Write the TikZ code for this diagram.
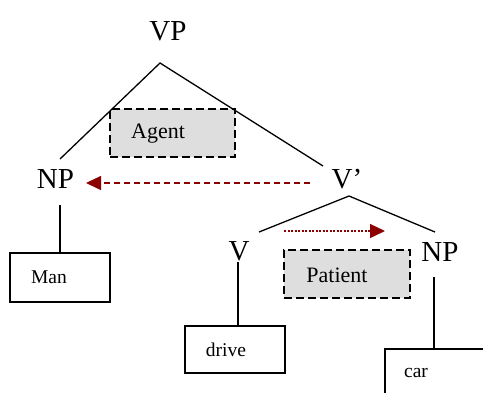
\documentclass[tikz,border=0pt]{standalone}
\usepackage{fontspec}
\setmainfont{Liberation Serif}
\usetikzlibrary{arrows.meta}
\definecolor{argred}{HTML}{8B0000}
\definecolor{rolegrey}{HTML}{DEDEDE}
\begin{document}
\begin{tikzpicture}[x=1pt,y=-1pt,
  cat/.style={inner sep=0pt,font=\fontsize{29}{29}\selectfont},
  wordbox/.style={draw,line width=1.5pt,inner sep=0pt},
  wordtext/.style={inner sep=0pt,font=\fontsize{19.5}{20}\selectfont},
  rolebox/.style={draw,line width=1.5pt,dash pattern=on 8pt off 4pt,fill=rolegrey,inner sep=0pt},
  roletext/.style={inner sep=0pt,font=\fontsize{22}{22}\selectfont},
  branch/.style={line width=1.3pt},
  movearrow/.style={argred,line width=1.3pt,-{Triangle[length=15pt,width=14pt]}}]
\useasboundingbox (0,0) rectangle (483,392);
\clip (0,0) rectangle (483,392);

% category labels
\node[cat] (vp) at (168,31) {VP};
\node[cat] (npl) at (55.5,179) {NP};
\node[cat] (vbar) at (347,179) {V’};
\node[cat] (v) at (239,251) {V};
\node[cat] (npr) at (440,252) {NP};

% thematic role boxes
\node[rolebox,minimum width=125pt,minimum height=48pt] (agentbox) at (172.5,133) {};
\node[roletext] (agent) at (158,134) {Agent};

% branches below VP
\coordinate (vpapex) at (160,63);
\coordinate (npltop) at (60,159);
\coordinate (vbartop) at (323,166);
\draw[branch] (npltop) -- (vpapex) -- (vbartop);

% branches below V'
\coordinate (vbarapex) at (349,196);
\coordinate (vtop) at (259,232);
\coordinate (nprtop) at (435,232);
\draw[branch] (vtop) -- (vbarapex) -- (nprtop);

\node[rolebox,minimum width=126pt,minimum height=48pt] (patientbox) at (347,274) {};
\node[roletext] (patient) at (337,275) {Patient};

% word boxes
\node[wordbox,minimum width=100pt,minimum height=49pt] (manbox) at (60,277.5) {};
\node[wordtext] (man) at (49,277) {Man};
\node[wordbox,minimum width=100pt,minimum height=47pt] (drivebox) at (235,349.5) {};
\node[wordtext] (drive) at (226,350) {drive};
\node[wordbox,minimum width=110pt,minimum height=60pt] (carbox) at (440,379) {};
\node[wordtext] (car) at (416,373) {car};

% lexical attachment lines
\coordinate (nplfoot) at (60,205);
\draw[branch] (nplfoot) -- (manbox.north);
\coordinate (vfoot) at (238,262);
\draw[branch] (vfoot) -- (238,326);
\coordinate (nprfoot) at (434,277);
\draw[branch] (nprfoot) -- (434,349);

% role assignment arrows
\coordinate (agentstart) at (310,183);
\coordinate (agenttip) at (86,183);
\draw[movearrow,dash pattern=on 6pt off 4pt] (agentstart) -- (agenttip);
\coordinate (patientstart) at (284,231);
\coordinate (patienttip) at (385,231);
\draw[movearrow,dash pattern=on 2pt off 1.5pt] (patientstart) -- (patienttip);
\end{tikzpicture}
\end{document}
